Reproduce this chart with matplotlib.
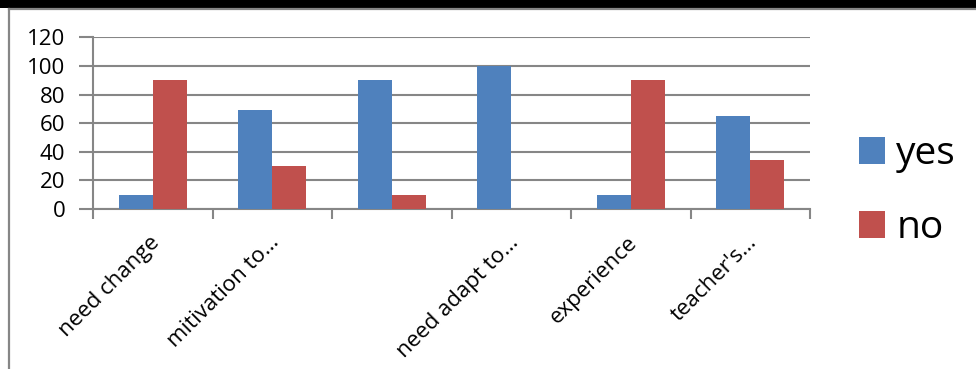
import matplotlib
matplotlib.use("Agg")
import matplotlib.pyplot as plt
import numpy as np

categories = ["need change", "mitivation to…", "", "need adapt to…", "experience", "teacher's…"]
yes_values = [10, 69, 90, 100, 10, 65]
no_values = [90, 30, 10, 0, 90, 34]
series_names = ["yes", "no"]
y_ticks = [0, 20, 40, 60, 80, 100, 120]

BLUE = "#4F81BD"
RED = "#C0504D"
GRAY = "#868686"
FONT = ["Open Sans", "DejaVu Sans"]

W, H, DPI = 976, 369, 100
fig = plt.figure(figsize=(W / DPI, H / DPI), dpi=DPI)
fig.patch.set_facecolor("white")

# frame: black band on top, gray border lines
fig.add_artist(plt.Rectangle((0, 1 - 8 / H), 1, 8 / H, transform=fig.transFigure,
                             facecolor="black", edgecolor="none"))
fig.add_artist(plt.Line2D([8.5 / W, 1], [1 - 9 / H, 1 - 9 / H], transform=fig.transFigure,
                          color=GRAY, lw=1.6))
fig.add_artist(plt.Line2D([8.5 / W, 8.5 / W], [0, 1 - 9 / H], transform=fig.transFigure,
                          color=GRAY, lw=1.6))

left, right, top, bottom = 93, 810, 37.3, 209
ax = fig.add_axes([left / W, 1 - bottom / H, (right - left) / W, (bottom - top) / H])

x = np.arange(len(categories))
bw = 0.285
ax.bar(x - bw / 2, yes_values, bw, color=BLUE, label=series_names[0], zorder=3)
ax.bar(x + bw / 2, no_values, bw, color=RED, label=series_names[1], zorder=3)

ax.set_xlim(-0.5, len(categories) - 0.5)
ax.set_ylim(0, 120)
ax.set_yticks(y_ticks)
ax.set_yticklabels([str(v) for v in y_ticks], fontsize=16, family=FONT)
ax.yaxis.grid(True, color=GRAY, lw=1.5, zorder=0)
ax.set_axisbelow(True)

for s in ["top", "right"]:
    ax.spines[s].set_visible(False)
for s in ["left", "bottom"]:
    ax.spines[s].set_color(GRAY)
    ax.spines[s].set_linewidth(1.5)

ax.tick_params(axis="y", length=10, width=1.5, color=GRAY, pad=10)
ax.set_xticks(np.arange(len(categories) + 1) - 0.5)
ax.set_xticklabels([])
ax.tick_params(axis="x", length=7, width=1.5, color=GRAY)

for i, lab in enumerate(categories):
    ax.text(i - 0.03, -16, lab, rotation=45, ha="right", va="top",
            rotation_mode="anchor", fontsize=16, family=FONT,
            transform=ax.transData, clip_on=False)

leg = fig.legend(loc="center left", bbox_to_anchor=(843 / W, 1 - 191 / H),
                 frameon=False, prop={"family": FONT, "size": 28},
                 handlelength=0.67, handleheight=0.67, handletextpad=0.3,
                 labelspacing=0.93, borderaxespad=0)

fig.savefig("out.png", dpi=DPI, facecolor="white")
